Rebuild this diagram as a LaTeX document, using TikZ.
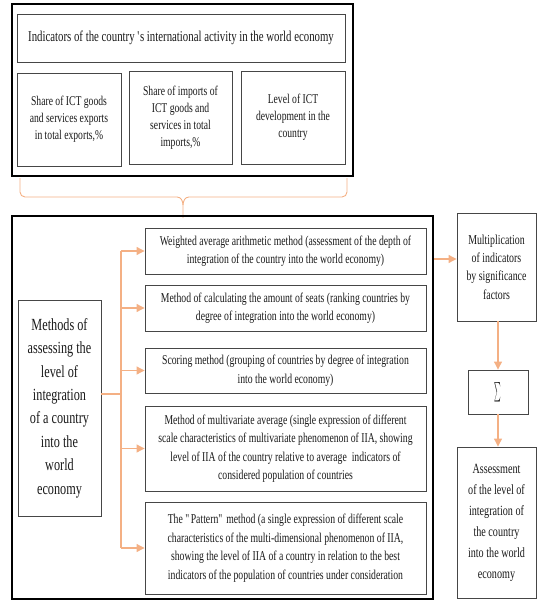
\documentclass[tikz,border=0pt]{standalone}
\usepackage{fontspec}
\setmainfont{Liberation Serif}[FakeStretch=0.72]
\usetikzlibrary{arrows.meta}
\definecolor{org}{RGB}{244,176,132}
\definecolor{bord}{RGB}{70,70,70}
\begin{document}
\begin{tikzpicture}[x=1pt,y=-1pt,
  box/.style={draw=bord,line width=0.9pt,align=center,inner sep=0pt,text=black!90},
  outer/.style={draw=black,line width=2.6pt,inner sep=0pt},
  arr/.style={draw=org,line width=1.1pt,-{Triangle[length=8pt,width=8pt]}},
  ln/.style={draw=org,line width=1.1pt}]
\useasboundingbox (0,0) rectangle (537,602);
% top group
\node[outer,minimum width=341pt,minimum height=172pt] (top) at (182.5,90) {};
\node[box,minimum width=328pt,minimum height=48pt,font=\fontsize{15}{18}\selectfont] (title) at (181,38)
  {Indicators of the country \textquotesingle s international activity in the world economy};
\node[box,minimum width=104pt,minimum height=93pt,font=\fontsize{13.4}{16.8}\selectfont] (b1) at (69,119.5)
  {Share of ICT goods\\and services exports\\in total exports,\%};
\node[box,minimum width=103pt,minimum height=93pt,font=\fontsize{13.4}{17}\selectfont] (b2) at (180.5,117.5)
  {Share of imports of\\ICT goods and\\services in total\\imports,\%};
\node[box,minimum width=104pt,minimum height=93pt,font=\fontsize{13.4}{17}\selectfont] (b3) at (293,117.5)
  {Level of ICT\\development in the\\country};
% brace
\draw[ln,line width=0.9pt] (20,178) -- (20,192) to[out=-90,in=180] (25,197) -- (177,197)
  to[out=0,in=90] (183,205) -- (183,218);
\draw[ln,line width=0.9pt] (347,178) -- (347,192) to[out=-90,in=0] (342,197) -- (189,197)
  to[out=180,in=90] (183,205);
% lower group
\node[outer,minimum width=421pt,minimum height=383pt] (low) at (222.5,407.5) {};
\node[box,minimum width=83pt,minimum height=216pt,font=\fontsize{17}{23.4}\selectfont] (meth) at (59.5,408)
  {Methods of\\assessing the\\level of\\integration\\of a country\\into the\\world\\economy};
\begin{scope}[every node/.style={box,minimum width=281pt,font=\fontsize{13.5}{18.5}\selectfont}]
\node[minimum height=46pt] (m1) at (285.5,251)
  {Weighted average arithmetic method (assessment of the depth of\\integration of the country into the world economy)};
\node[minimum height=46pt] (m2) at (285.5,308)
  {Method of calculating the amount of seats (ranking countries by\\degree of integration into the world economy)};
\node[minimum height=45pt] (m3) at (285.5,370.5)
  {Scoring method (grouping of countries by degree of integration\\into the world economy)};
\node[minimum height=85pt] (m4) at (285.5,448.5)
  {Method of multivariate average (single expression of different\\scale characteristics of multivariate phenomenon of IIA, showing\\level of IIA of the country relative to average~ indicators of\\considered population of countries};
\node[minimum height=92pt] (m5) at (285.5,548)
  {The \textquotedbl Pattern\textquotedbl\ method (a single expression of different scale\\characteristics of the multi-dimensional phenomenon of IIA,\\showing the level of IIA of a country in relation to the best\\indicators of the population of countries under consideration};
\end{scope}
\coordinate (j) at (121,394);
\coordinate (t1) at (121,251);
\coordinate (t5) at (121,548);
\draw[ln] (meth.east |- j) -- (j);
\draw[ln] (t1) -- (t5);
\foreach \m in {m1,m2,m3,m4,m5}{\draw[arr] (t1 |- \m.west) -- (\m.west);}
% right column
\node[box,minimum width=79pt,minimum height=108pt,font=\fontsize{13.7}{18.3}\selectfont] (mult) at (496.5,267)
  {Multiplication\\of indicators\\by significance\\factors};
\node[box,minimum width=60pt,minimum height=44pt] (sig) at (498,392)
  {\scalebox{0.63}[1.95]{\fontsize{16}{16}\selectfont$\sum$}};
\node[box,minimum width=79pt,minimum height=151pt,font=\fontsize{14.1}{21}\selectfont] (ass) at (496.5,522.5)
  {Assessment\\of the level of\\integration of\\the country\\into the world\\economy};
\coordinate (s) at (434,259);
\draw[arr] (s) -- (mult.west |- s);
\draw[arr] (mult.south -| sig.north) -- (sig.north);
\draw[arr] (sig.south) -- (ass.north -| sig.south);
\end{tikzpicture}
\end{document}
